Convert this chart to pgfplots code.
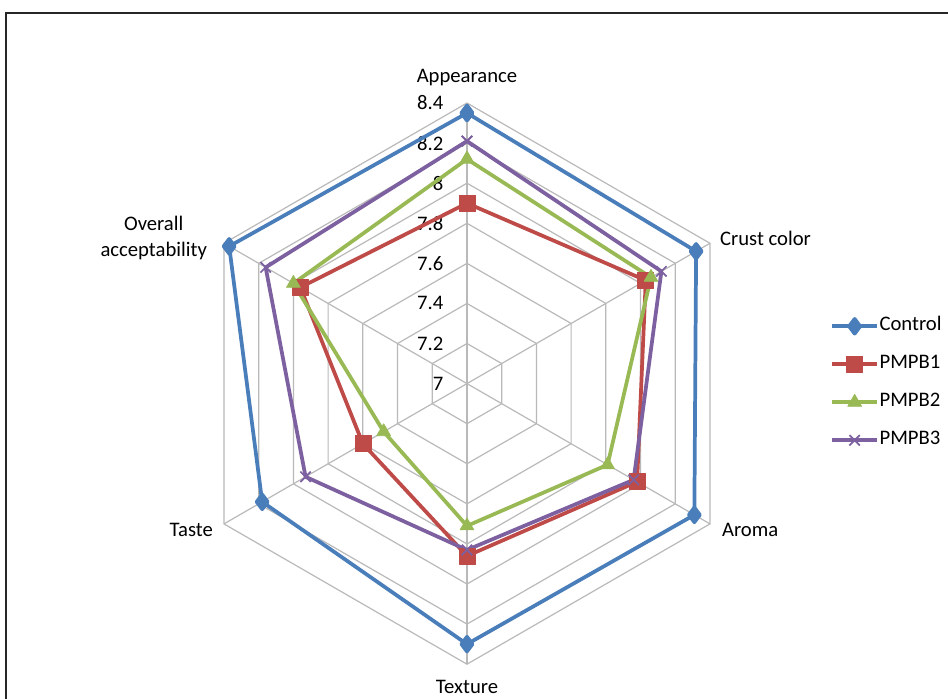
\documentclass[border=0pt]{standalone}
\usepackage{pgfplots}
\pgfplotsset{compat=1.18}
\usepackage{pgfplotstable}
\usepackage{fontspec}
\setmainfont{Carlito}

\definecolor{cctrl}{HTML}{4A7EBB}
\definecolor{cp1}{HTML}{BE4B48}
\definecolor{cp2}{HTML}{98B954}
\definecolor{cp3}{HTML}{7D60A0}
\tikzset{radargrid/.style={gray!55, line width=0.9pt}}

% sensory scores, one row per attribute (angle of its spoke in degrees)
% last row repeats the first one to close the polygon
\pgfplotstableread{
ang   ctrl  p1    p2    p3
90    8.35  7.90  8.12  8.21
30    8.32  8.03  8.06  8.12
-30   8.31  7.98  7.81  7.96
-90   8.30  7.86  7.71  7.83
-150  8.18  7.60  7.48  7.93
150   8.37  7.96  8.00  8.16
90    8.35  7.90  8.12  8.21
}\sens

\begin{document}
\fontsize{15.5}{20}\selectfont
\begin{tikzpicture}
\begin{axis}[
    name=ax,
    x=150.3pt, y=150.3pt,
    xmin=-2.330, xmax=2.400,
    ymin=-1.569, ymax=1.914,
    hide axis,
    clip=false,
    legend style={draw=none, fill=none, at={(0.8755,0.5454)}, anchor=north west,
        inner sep=0pt, row sep=15.5pt,
        nodes={inner xsep=0.4pt, inner ysep=0pt, text height=10pt, text depth=3pt}},
    legend cell align=left,
    legend image code/.code={%
        \draw[mark repeat=2,mark phase=2,#1] plot coordinates {(0pt,0pt)(16.9pt,0pt)(33.8pt,0pt)};},
]
% hexagonal grid
\pgfplotsinvokeforeach{0.2,0.4,0.6,0.8,1.0,1.2,1.4}{
  \draw[radargrid] (axis cs:0,#1) -- (axis cs:{0.866025*#1},{0.5*#1})
    -- (axis cs:{0.866025*#1},{-0.5*#1}) -- (axis cs:0,-#1)
    -- (axis cs:{-0.866025*#1},{-0.5*#1}) -- (axis cs:{-0.866025*#1},{0.5*#1}) -- cycle;
}
\draw[radargrid] (axis cs:0,1.4) -- (axis cs:0,-1.4);
\draw[radargrid] (axis cs:1.212436,0.7) -- (axis cs:-1.212436,-0.7);
\draw[radargrid] (axis cs:1.212436,-0.7) -- (axis cs:-1.212436,0.7);

% radial scale
\node[anchor=east] at (axis cs:-0.082,0.0) {7};
\node[anchor=east] at (axis cs:-0.082,0.2) {7.2};
\node[anchor=east] at (axis cs:-0.082,0.4) {7.4};
\node[anchor=east] at (axis cs:-0.082,0.6) {7.6};
\node[anchor=east] at (axis cs:-0.082,0.8) {7.8};
\node[anchor=east] at (axis cs:-0.082,1.0) {8};
\node[anchor=east] at (axis cs:-0.082,1.2) {8.2};
\node[anchor=east] at (axis cs:-0.082,1.4) {8.4};

% attribute names
\node at (axis cs:0,1.529) {Appearance};
\node[anchor=west] at (axis cs:1.227,0.726) {Crust color};
\node[anchor=west] at (axis cs:1.237,-0.731) {Aroma};
\node[anchor=base, inner ysep=1pt] at (axis cs:0,-1.548) {Texture};
\node[anchor=east] at (axis cs:-1.232,-0.731) {Taste};
\node[anchor=east, align=center] at (axis cs:-1.262,0.726) {Overall\\acceptability};

% frame
\draw[black!85, line width=0.9pt] (axis cs:-2.300,-1.8) -- (axis cs:-2.300,1.849) -- (axis cs:2.6,1.849);

\addplot[cctrl, line width=2.8pt, line join=round, mark=diamond*, mark size=5.5pt,
    mark options={solid, fill=cctrl}]
  table[x expr={(\thisrow{ctrl}-7)*cos(\thisrow{ang})}, y expr={(\thisrow{ctrl}-7)*sin(\thisrow{ang})}] {\sens};
\addlegendentry{Control}
\addplot[cp1, line width=2.8pt, line join=round, mark=square*, mark size=6pt,
    mark options={solid, fill=cp1, line width=0.5pt}]
  table[x expr={(\thisrow{p1}-7)*cos(\thisrow{ang})}, y expr={(\thisrow{p1}-7)*sin(\thisrow{ang})}] {\sens};
\addlegendentry{PMPB1}
\addplot[cp2, line width=2.8pt, line join=round, mark=triangle*, mark size=6pt,
    mark options={solid, fill=cp2, line width=0.5pt}]
  table[x expr={(\thisrow{p2}-7)*cos(\thisrow{ang})}, y expr={(\thisrow{p2}-7)*sin(\thisrow{ang})}] {\sens};
\addlegendentry{PMPB2}
\addplot[cp3, line width=2.8pt, line join=round, mark=x, mark size=5.5pt,
    mark options={solid, line width=1.3pt}]
  table[x expr={(\thisrow{p3}-7)*cos(\thisrow{ang})}, y expr={(\thisrow{p3}-7)*sin(\thisrow{ang})}] {\sens};
\addlegendentry{PMPB3}
\end{axis}
\pgfresetboundingbox
\path[use as bounding box] (ax.south west) rectangle (ax.north east);
\end{tikzpicture}
\end{document}
